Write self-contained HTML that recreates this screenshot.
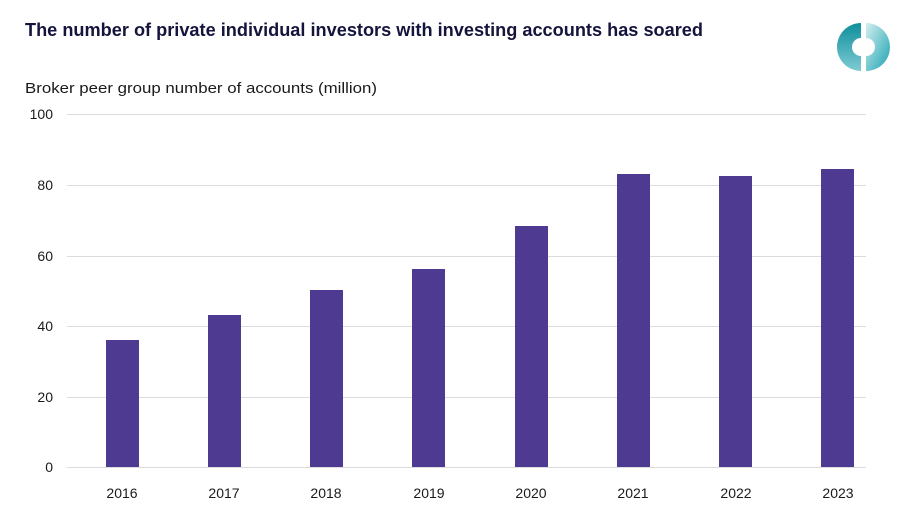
<!DOCTYPE html>
<html><head><meta charset="utf-8"><style>
html,body{margin:0;padding:0;background:#fff;}
body{width:900px;height:527px;overflow:hidden;font-family:"Liberation Sans",sans-serif;}
</style></head><body>
<svg width="900" height="527" xmlns="http://www.w3.org/2000/svg" font-family="Liberation Sans, sans-serif">
<defs>
<linearGradient id="gr" x1="0" y1="0" x2="1" y2="1"><stop offset="0" stop-color="#d4eef0"/><stop offset="1" stop-color="#1aa3b0"/></linearGradient>
<linearGradient id="gl" x1="0" y1="0" x2="0" y2="1"><stop offset="0" stop-color="#0e8e9c"/><stop offset="1" stop-color="#7fcbd3"/></linearGradient>
</defs>
<text x="25" y="36" font-size="18" font-weight="bold" fill="#14143c" textLength="678" lengthAdjust="spacingAndGlyphs">The number of private individual investors with investing accounts has soared</text>
<text x="25" y="93" font-size="15" fill="#1a1a1a" textLength="352" lengthAdjust="spacingAndGlyphs">Broker peer group number of accounts (million)</text>
<path d="M861 23 A24 24 0 0 0 861 71 L861 56 A9 9 0 0 1 861 38 Z" fill="url(#gl)"/>
<path d="M866 23 A24 24 0 0 1 866 71 L866 56 A9 9 0 0 0 866 38 Z" fill="url(#gr)"/>
<g stroke="#dcdcdc" stroke-width="1">
<line x1="67" x2="866" y1="114.5" y2="114.5"/>
<line x1="67" x2="866" y1="185.5" y2="185.5"/>
<line x1="67" x2="866" y1="256.5" y2="256.5"/>
<line x1="67" x2="866" y1="326.5" y2="326.5"/>
<line x1="67" x2="866" y1="397.5" y2="397.5"/>
<line x1="67" x2="866" y1="467.5" y2="467.5"/>
</g>
<g font-size="14" fill="#1a1a1a" text-anchor="end">
<text x="53" y="119">100</text><text x="53" y="190">80</text><text x="53" y="261">60</text>
<text x="53" y="331">40</text><text x="53" y="402">20</text><text x="53" y="472">0</text>
</g>
<g fill="#4f3a91">
<rect x="106" y="340" width="33" height="127"/>
<rect x="208" y="315" width="33" height="152"/>
<rect x="310" y="290" width="33" height="177"/>
<rect x="412" y="269" width="33" height="198"/>
<rect x="515" y="226" width="33" height="241"/>
<rect x="617" y="174" width="33" height="293"/>
<rect x="719" y="176" width="33" height="291"/>
<rect x="821" y="169" width="33" height="298"/>
</g>
<g font-size="14" fill="#1a1a1a" text-anchor="middle">
<text x="122" y="498">2016</text><text x="224" y="498">2017</text><text x="326" y="498">2018</text>
<text x="429" y="498">2019</text><text x="531" y="498">2020</text><text x="633" y="498">2021</text>
<text x="736" y="498">2022</text><text x="838" y="498">2023</text>
</g>
</svg>
</body></html>
